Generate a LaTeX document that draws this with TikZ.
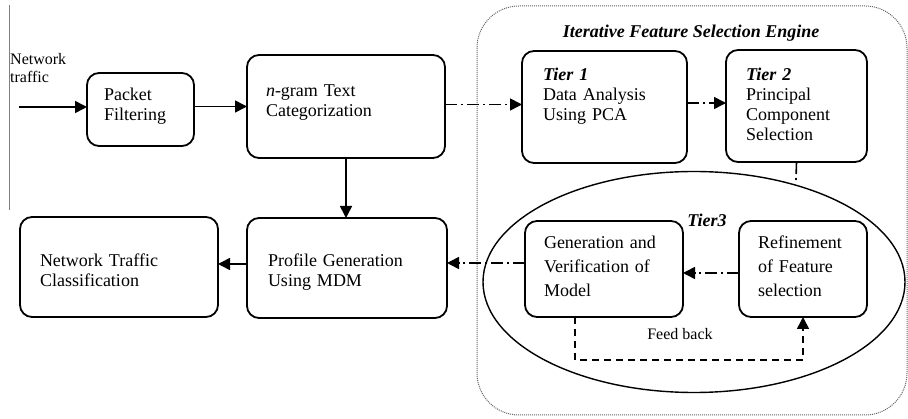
\documentclass[tikz,border=0pt]{standalone}
\usepackage{fontspec}
\setmainfont{Liberation Serif}
\usepackage{tikz}
\usetikzlibrary{calc, positioning, arrows.meta, shapes.geometric}
\tikzset{
	line width = 1.6pt,
	font = \fontsize{18}{20}\selectfont,
	box/.style={
		draw,
		rounded corners=12pt,
		line width=1.8pt,
		anchor=north west,
		align=left,
		outer sep=0pt,
		inner ysep=0pt
	},
	flow/.style={
		-{Triangle[length=12pt,width=12pt]},
		line width=1.6pt
	},
	dashline/.style={
		line width=1.6pt,
		dash pattern=on 12pt off 4pt on 2pt off 4pt
	},
	dashflow/.style={
		flow,
		dashline
	},
	feedback/.style={
		flow,
		dash pattern=on 7pt off 5pt
	},
	tier/.style={
		font=\fontsize{18}{20}\selectfont\bfseries\itshape
	}
}

\begin{document}
\begin{tikzpicture}[x=1pt, y=-1pt]
	\useasboundingbox (0,0) rectangle (908,419);

	% left border
	\draw[line width=.8pt, gray] (9,5) -- (9,210);

	% engine frame and tier 3 ring
	\draw[densely dotted, line width=1pt, gray!80!black, rounded corners=42pt] (477,6) rectangle (907,415);
	\node[tier, anchor=base] (title) at (691,38) {Iterative Feature Selection Engine};
	\node[draw, ellipse, line width=1.4pt, inner sep=0pt, minimum width=422pt, minimum height=221pt] (ring) at (694,282) {};
	\node[tier, anchor=base] (t3) at (707,227) {Tier3};

	% boxes
	\node[anchor=base west, align=left, inner sep=0pt, text width=60pt, font=\fontsize{16}{18}\selectfont] (nettxt) at (10,65) {Network\\traffic};
	\node[box, text width=73pt, inner xsep=17pt, text height=28pt, text depth=45pt] (pf) at (87,73) {Packet\\Filtering};
	\node[box, text width=160pt, inner xsep=19pt, text height=42pt, text depth=61pt] (ngram) at (247,55) {\textit{n}-gram Text\\Categorization};
	\node[box, text width=158pt, inner xsep=21pt, text height=49pt, text depth=51pt] (prof) at (247,218) {Profile Generation\\Using MDM};
	\node[box, text width=158pt, inner xsep=20pt, text height=50pt, text depth=50pt] (ntc) at (20,217) {Network Traffic\\Classification};
	\node[box, text width=123pt, inner xsep=21pt, text height=30pt, text depth=82pt] (t1) at (522,51) {\textbf{\textit{Tier 1}}\\Data Analysis\\Using PCA};
	\node[box, text width=101pt, inner xsep=20pt, text height=31pt, text depth=81pt] (t2) at (726,50) {\textbf{\textit{Tier 2}}\\Principal\\Component\\Selection};
	\node[box, text width=120pt, inner xsep=19pt, text height=28pt, text depth=68pt, font=\fontsize{18}{24}\selectfont] (gen) at (525,221) {Generation and\\Verification of\\Model};
	\node[box, text width=90pt, inner xsep=19pt, text height=28pt, text depth=68pt, font=\fontsize{18}{24}\selectfont] (ref) at (739,221) {Refinement\\of Feature\\selection};
	\node[anchor=base, font=\fontsize{16}{18}\selectfont] (fbtext) at (680,340) {Feed back};

	% connectors
	\coordinate (src) at (19,107);
	\coordinate (t2stub) at (796,180);
	\draw[flow] (src) -- (src -| pf.west);
	\draw[flow] ([yshift=3pt]pf.east) -- ([yshift=3pt]pf.east -| ngram.west);
	\draw[flow] (ngram.south) -- (ngram.south |- prof.north);
	\draw[flow] ([yshift=4pt]prof.west) -- ([yshift=4pt]prof.west -| ntc.east);
	\draw[dashflow] ([yshift=2pt]ngram.east) -- ([yshift=2pt]ngram.east -| t1.west);
	\draw[dashflow] ([yshift=4pt]t1.east) -- ([yshift=4pt]t1.east -| t2.west);
	\draw[dashline] (t2.south) -- (t2stub);
	\draw[dashflow] ([yshift=-4pt]ref.west) -- ([yshift=-4pt]ref.west -| gen.east);
	\draw[dashflow] ([yshift=6pt]gen.west) -- ([yshift=6pt]gen.west -| prof.east);
	\draw[feedback] ([xshift=-29pt]gen.south) -- ++(0,43) -| (ref.south);
\end{tikzpicture}
\end{document}
